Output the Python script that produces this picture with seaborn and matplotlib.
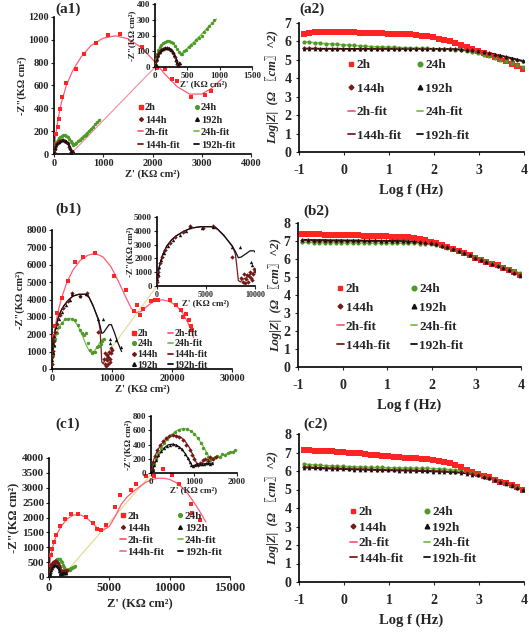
import matplotlib
matplotlib.use('Agg')
import matplotlib.pyplot as plt
import seaborn as sns
from matplotlib.lines import Line2D

sns.set_style('ticks')
plt.rcParams['font.family'] = ['Liberation Serif', 'Noto Sans CJK JP', 'DejaVu Sans']
plt.rcParams['font.weight'] = 'bold'
plt.rcParams['axes.labelweight'] = 'bold'
plt.rcParams['axes.unicode_minus'] = False

# ---------------- data ----------------
series = ['2h', '24h', '144h', '192h']
fit_labels = ['2h-fit', '24h-fit', '144h-fit', '192h-fit']

# Bode: log f (Hz)
logf = [-0.9, -0.775, -0.65, -0.525, -0.4, -0.275, -0.15, -0.025, 0.1, 0.225,
        0.35, 0.475, 0.6, 0.725, 0.85, 0.975, 1.1, 1.225, 1.35, 1.475,
        1.6, 1.725, 1.85, 1.975, 2.1, 2.225, 2.35, 2.475, 2.6, 2.725,
        2.85, 2.975, 3.1, 3.225, 3.35, 3.475, 3.6, 3.725, 3.85, 3.975]

a2_2h = [6.38, 6.48, 6.50, 6.52, 6.52, 6.51, 6.51, 6.50, 6.50, 6.49,
         6.48, 6.47, 6.46, 6.45, 6.44, 6.43, 6.42, 6.41, 6.40, 6.38,
         6.36, 6.32, 6.27, 6.22, 6.15, 6.08, 6.00, 5.92, 5.82, 5.70,
         5.58, 5.46, 5.36, 5.27, 5.16, 5.05, 4.93, 4.80, 4.65, 4.48]
a2_24h = [5.98, 5.96, 5.93, 5.90, 5.88, 5.86, 5.84, 5.82, 5.80, 5.78,
          5.76, 5.74, 5.72, 5.71, 5.70, 5.69, 5.68, 5.67, 5.66, 5.65,
          5.64, 5.63, 5.62, 5.61, 5.60, 5.59, 5.57, 5.55, 5.52, 5.48,
          5.42, 5.35, 5.28, 5.20, 5.10, 5.00, 4.92, 4.82, 4.72, 4.62]
a2_144h = [5.62, 5.62, 5.62, 5.61, 5.61, 5.61, 5.61, 5.60, 5.60, 5.60,
           5.60, 5.60, 5.60, 5.60, 5.60, 5.60, 5.60, 5.60, 5.60, 5.60,
           5.60, 5.60, 5.60, 5.60, 5.59, 5.59, 5.58, 5.57, 5.56, 5.54,
           5.51, 5.47, 5.42, 5.36, 5.29, 5.22, 5.15, 5.07, 4.99, 4.92]
a2_192h = [5.60, 5.60, 5.60, 5.60, 5.60, 5.60, 5.60, 5.60, 5.60, 5.60,
           5.60, 5.60, 5.60, 5.60, 5.60, 5.60, 5.60, 5.60, 5.60, 5.60,
           5.60, 5.60, 5.60, 5.60, 5.60, 5.59, 5.59, 5.58, 5.57, 5.55,
           5.52, 5.48, 5.43, 5.37, 5.31, 5.24, 5.17, 5.10, 5.02, 4.95]

b2_2h = [7.38, 7.38, 7.37, 7.37, 7.36, 7.35, 7.35, 7.34, 7.33, 7.32,
         7.31, 7.30, 7.29, 7.28, 7.27, 7.26, 7.25, 7.24, 7.23, 7.21,
         7.17, 7.11, 7.04, 6.96, 6.87, 6.77, 6.66, 6.55, 6.44, 6.32,
         6.20, 6.08, 5.97, 5.86, 5.75, 5.64, 5.52, 5.40, 5.27, 5.13]
b2_24h = [6.92, 6.92, 6.91, 6.91, 6.90, 6.90, 6.90, 6.89, 6.89, 6.89,
          6.89, 6.88, 6.88, 6.88, 6.88, 6.88, 6.88, 6.88, 6.87, 6.87,
          6.87, 6.86, 6.85, 6.83, 6.79, 6.72, 6.63, 6.53, 6.43, 6.32,
          6.21, 6.10, 5.99, 5.89, 5.79, 5.69, 5.58, 5.47, 5.35, 5.22]
b2_144h = [7.03, 7.03, 7.02, 7.02, 7.02, 7.01, 7.01, 7.01, 7.00, 7.00,
           7.00, 7.00, 6.99, 6.99, 6.99, 6.99, 6.98, 6.98, 6.98, 6.97,
           6.96, 6.94, 6.91, 6.87, 6.82, 6.74, 6.65, 6.55, 6.44, 6.32,
           6.20, 6.08, 5.97, 5.86, 5.75, 5.63, 5.51, 5.38, 5.24, 5.09]
b2_192h = [7.07, 7.07, 7.06, 7.06, 7.06, 7.05, 7.05, 7.05, 7.04, 7.04,
           7.04, 7.03, 7.03, 7.03, 7.02, 7.02, 7.02, 7.01, 7.00, 6.99,
           6.98, 6.96, 6.92, 6.88, 6.82, 6.74, 6.65, 6.55, 6.44, 6.32,
           6.20, 6.08, 5.97, 5.86, 5.75, 5.63, 5.51, 5.38, 5.23, 5.07]

c2_2h = [7.12, 7.11, 7.10, 7.09, 7.08, 7.06, 7.04, 7.02, 7.00, 6.98,
         6.95, 6.92, 6.89, 6.86, 6.83, 6.80, 6.77, 6.74, 6.72, 6.70,
         6.68, 6.66, 6.63, 6.60, 6.56, 6.50, 6.42, 6.32, 6.20, 6.07,
         5.95, 5.85, 5.75, 5.65, 5.54, 5.43, 5.33, 5.22, 5.11, 5.00]
c2_24h = [6.38, 6.35, 6.33, 6.31, 6.29, 6.28, 6.26, 6.25, 6.24, 6.23,
          6.22, 6.21, 6.20, 6.19, 6.19, 6.18, 6.17, 6.17, 6.16, 6.16,
          6.15, 6.15, 6.14, 6.13, 6.12, 6.10, 6.08, 6.05, 6.01, 5.95,
          5.89, 5.82, 5.74, 5.64, 5.54, 5.43, 5.33, 5.22, 5.11, 5.00]
c2_144h = [6.22, 6.21, 6.19, 6.18, 6.17, 6.16, 6.15, 6.14, 6.13, 6.12,
           6.11, 6.10, 6.09, 6.08, 6.08, 6.07, 6.06, 6.06, 6.05, 6.05,
           6.04, 6.03, 6.02, 6.01, 6.00, 5.99, 5.97, 5.95, 5.92, 5.88,
           5.83, 5.77, 5.70, 5.62, 5.53, 5.43, 5.33, 5.22, 5.10, 4.98]
c2_192h = [6.18, 6.17, 6.15, 6.14, 6.13, 6.12, 6.11, 6.10, 6.09, 6.08,
           6.07, 6.06, 6.05, 6.05, 6.04, 6.03, 6.03, 6.02, 6.02, 6.01,
           6.00, 5.99, 5.98, 5.97, 5.96, 5.95, 5.94, 5.92, 5.90, 5.86,
           5.81, 5.76, 5.69, 5.61, 5.52, 5.42, 5.32, 5.21, 5.09, 4.97]

# Nyquist (a1)
a1_2h_x = [15, 35, 49, 75, 102, 130, 171, 252, 441, 609, 847, 1097, 1334, 1781, 2097, 2254, 2390, 2497, 2776, 3066, 3188]
a1_2h_y = [40, 91, 179, 237, 310, 398, 500, 622, 748, 874, 973, 1046, 1052, 938, 754, 748, 661, 637, 500, 521, 550]
a1_2h_fit_x = [0, 30, 80, 150, 250, 380, 550, 750, 1000, 1250, 1500, 1750, 2000, 2250, 2500, 2750, 3000, 3200, 3400]
a1_2h_fit_y = [0, 150, 300, 450, 600, 730, 850, 950, 1015, 1035, 1010, 940, 830, 700, 590, 525, 525, 575, 655]
a1_link_x = [340, 2050]
a1_link_y = [0, 760]
a1_24h_x = [5, 15, 30, 50, 75, 100, 130, 160, 190, 220, 250, 280, 310, 340, 370, 395, 420, 450, 480, 520, 560, 600, 640, 680, 720, 760, 800, 840, 880, 920]
a1_24h_y = [20, 50, 80, 105, 125, 140, 152, 160, 165, 165, 160, 150, 135, 115, 95, 82, 85, 100, 110, 125, 140, 155, 170, 185, 200, 220, 240, 260, 280, 300]
a1_24h_fit_x = [0, 20, 50, 100, 150, 200, 250, 300, 350, 390, 410, 500, 600, 700, 800, 900, 950]
a1_24h_fit_y = [0, 60, 105, 140, 158, 165, 160, 140, 110, 88, 85, 120, 160, 200, 245, 285, 305]
a1_144h_x = [5, 15, 30, 50, 75, 100, 130, 160, 190, 220, 250, 280, 310, 330, 345, 360, 375]
a1_144h_y = [15, 40, 65, 85, 100, 110, 117, 120, 120, 117, 108, 92, 65, 40, 20, 5, 20]
a1_144h_fit_x = [0, 20, 50, 100, 150, 200, 250, 300, 330, 350, 360]
a1_144h_fit_y = [0, 50, 85, 110, 119, 120, 110, 80, 50, 20, 0]
a1_192h_x = [10, 25, 45, 70, 95, 125, 155, 185, 215, 245, 275, 300, 325, 340, 355, 365, 380]
a1_192h_y = [20, 50, 75, 95, 108, 117, 120, 121, 118, 110, 95, 75, 50, 30, 10, 2, 25]
a1_192h_fit_x = [0, 20, 50, 100, 150, 200, 250, 300, 330, 350, 362, 380]
a1_192h_fit_y = [0, 52, 88, 112, 120, 121, 112, 82, 52, 22, 0, 30]

# Nyquist (b1)
b1_2h_x = [100, 200, 450, 900, 1600, 2700, 3800, 5100, 7100, 10300, 12400, 13600, 14100, 14700, 15100, 16500, 17200, 17700, 19600, 20700, 21500, 21900, 22300, 22800, 23100, 23300]
b1_2h_y = [800, 1900, 2450, 3200, 4100, 5050, 6150, 6450, 6650, 5350, 4550, 3350, 3700, 3100, 3450, 3900, 3950, 3950, 3950, 3700, 3400, 3000, 3150, 2800, 2500, 2250]
b1_2h_fit_x = [0, 200, 500, 1000, 1700, 2500, 3500, 4700, 6000, 7200, 8500, 9800, 11000, 12200, 13200, 14000, 14800, 15800, 17000, 18300, 19500, 20700, 21700, 22600, 23300, 23600]
b1_2h_fit_y = [0, 1500, 2400, 3300, 4200, 5000, 5700, 6250, 6550, 6650, 6450, 5900, 5100, 4200, 3500, 3250, 3300, 3600, 3900, 3980, 3900, 3650, 3250, 2700, 2150, 1800]
b1_24h_x = [50, 150, 300, 500, 800, 1200, 1600, 2100, 2700, 3300, 3800, 4300, 4700, 5000, 5300, 5600, 6000, 6300, 6600, 6900, 7200, 7500, 7800, 8100, 8400, 8700]
b1_24h_y = [300, 800, 1300, 1700, 2100, 2400, 2650, 2850, 2900, 2900, 2800, 2550, 2250, 2050, 1950, 2100, 1500, 1100, 900, 950, 1000, 1250, 1350, 1450, 1600, 1700]
b1_24h_fit_x = [0, 200, 500, 1000, 1600, 2300, 3000, 3700, 4300, 5000, 5600, 6200, 6600, 7000, 7500, 8000, 8500]
b1_24h_fit_y = [0, 1100, 1700, 2250, 2650, 2870, 2920, 2780, 2500, 2000, 1450, 1050, 920, 1000, 1250, 1550, 1750]
b1_144h_x = [20, 60, 130, 300, 480, 820, 1330, 1840, 2690, 3370, 4660, 5750, 7620, 8600, 8800, 8900, 9000, 9100, 9200, 9300, 9400, 9500, 9600, 9700, 9800, 9900, 10000]
b1_144h_y = [300, 700, 1040, 1640, 2120, 2610, 3090, 3530, 3940, 4350, 4180, 4350, 2120, 600, 300, 900, 200, 500, 800, 300, 700, 1000, 600, 400, 900, 1200, 1100]
b1_144h_fit_x = [0, 100, 300, 600, 1000, 1500, 2000, 2700, 3500, 4500, 5500, 6200, 7000, 7700, 8000, 8150, 8300, 8500, 8800, 9100, 9400, 9700, 10000]
b1_144h_fit_y = [0, 900, 1600, 2300, 2900, 3350, 3650, 3950, 4200, 4300, 4300, 4100, 3500, 2900, 2300, 1400, 400, 300, 500, 600, 800, 900, 1000]
b1_192h_x = [50, 100, 250, 400, 700, 1100, 1600, 2300, 3000, 3400, 4600, 5700, 7700, 8450, 9600, 9700, 10700, 11500]
b1_192h_y = [500, 900, 1400, 1900, 2400, 2900, 3300, 3700, 4000, 4300, 4200, 4300, 2850, 2850, 1750, 1500, 1650, 1250]
b1_192h_fit_x = [0, 100, 300, 600, 1000, 1500, 2000, 2700, 3500, 4500, 5500, 6000, 6800, 7700, 8000, 8300, 8600, 9000, 9500, 9900, 10400, 11000, 11600]
b1_192h_fit_y = [0, 900, 1600, 2300, 2900, 3350, 3650, 3950, 4200, 4300, 4300, 4250, 3700, 2850, 2500, 2050, 2100, 2300, 2550, 2550, 2100, 1500, 1000]
b1_link_x = [8800, 17500]
b1_link_y = [700, 4780]

# Nyquist (c1)
c1_2h_x = [58, 140, 198, 281, 388, 612, 942, 1298, 1851, 2397, 3090, 3636, 3967, 4331, 4744, 5430, 5843, 6810, 7223, 8050, 8736, 9421, 10198, 10802, 11800, 11850, 12500]
c1_2h_y = [168, 393, 729, 955, 1176, 1402, 1704, 1939, 2131, 2131, 2017, 1815, 1627, 1593, 1738, 2353, 2770, 2914, 3116, 3385, 3385, 3644, 3418, 3139, 2470, 2150, 1900]
c1_2h_fit_x = [0, 100, 300, 600, 1000, 1500, 2000, 2500, 3000, 3500, 4000, 4500, 5000, 5500, 6000, 6500, 7000, 7500, 8000, 8500, 9000, 9500, 10000, 10500, 11000, 11500, 12000, 12500, 13000]
c1_2h_fit_y = [0, 550, 1000, 1400, 1700, 1950, 2080, 2100, 2020, 1850, 1650, 1580, 1700, 2050, 2450, 2700, 2880, 3030, 3180, 3270, 3320, 3320, 3280, 3180, 3020, 2800, 2520, 2200, 1850]
c1_24h_x = [40, 80, 120, 170, 230, 300, 380, 470, 560, 650, 740, 830, 920, 1010, 1090, 1160, 1220, 1270, 1320, 1370, 1420, 1480, 1540, 1600, 1660, 1720, 1780, 1840, 1900, 1960, 2050, 2150]
c1_24h_y = [40, 120, 200, 280, 350, 420, 480, 530, 570, 600, 620, 615, 590, 550, 490, 420, 350, 280, 220, 180, 200, 220, 240, 220, 260, 250, 280, 300, 290, 320, 340, 380]
c1_24h_fit_x = [0, 50, 100, 200, 300, 400, 500, 600, 700, 800, 900, 1000, 1100, 1200, 1300, 1370, 1450, 1550, 1700, 1850, 2000, 2150]
c1_24h_fit_y = [0, 80, 160, 300, 410, 490, 550, 595, 620, 620, 600, 555, 480, 390, 280, 210, 200, 220, 255, 290, 320, 360]
c1_144h_x = [20, 50, 90, 140, 200, 270, 340, 420, 500, 580, 660, 740, 820, 900, 960, 1010, 1060, 1100, 1150, 1200, 1260, 1320, 1380, 1450, 1520]
c1_144h_y = [60, 150, 240, 320, 390, 450, 495, 520, 530, 525, 500, 460, 400, 320, 250, 190, 130, 110, 140, 180, 200, 170, 220, 200, 230]
c1_144h_fit_x = [0, 50, 100, 200, 300, 400, 500, 600, 700, 800, 900, 1000, 1080, 1150, 1250, 1350, 1450, 1550]
c1_144h_fit_y = [0, 160, 250, 370, 450, 505, 530, 525, 500, 440, 350, 220, 110, 130, 175, 195, 210, 225]
c1_192h_x = [50, 80, 120, 170, 230, 300, 370, 440, 510, 580, 650, 720, 790, 850, 900, 940, 980, 1030, 1080, 1130, 1180, 1230, 1280, 1330, 1380, 1420]
c1_192h_y = [40, 110, 180, 250, 310, 355, 385, 400, 405, 395, 370, 330, 270, 210, 150, 110, 95, 110, 120, 125, 130, 120, 135, 140, 130, 145]
c1_192h_fit_x = [30, 60, 100, 200, 300, 400, 500, 600, 700, 800, 900, 960, 1050, 1150, 1250, 1350, 1450]
c1_192h_fit_y = [0, 80, 150, 270, 350, 395, 405, 390, 345, 270, 160, 100, 115, 125, 130, 135, 140]
c1_link_x = [1600, 8400]
c1_link_y = [250, 3420]

# ---------------- styles ----------------
PC = {'2h': '#FF2424', '24h': '#4E9A28', '144h': '#761818', '192h': '#111111'}
FC = {'2h': '#FF5C78', '24h': '#78C046', '144h': '#7A1C1C', '192h': '#111111'}
MK = {'2h': 's', '24h': 'o', '144h': 'D', '192h': '^'}
MSCALE = {'2h': 1.0, '24h': 0.95, '144h': 0.7, '192h': 0.95}

W, H = 529, 632
fig = plt.figure(figsize=(W / 100, H / 100), dpi=100)


def add_ax(x0, y0, x1, y1, inset=False):
    ax = fig.add_axes([x0 / W, 1 - y1 / H, (x1 - x0) / W, (y1 - y0) / H])
    if inset:
        ax.set_facecolor('none')
    for s in ['top', 'right']:
        ax.spines[s].set_visible(False)
    for s in ['left', 'bottom']:
        ax.spines[s].set_linewidth(1.2)
        ax.spines[s].set_color('black')
    return ax


def pts(ax, x, y, key, s):
    sns.scatterplot(x=x, y=y, ax=ax, marker=MK[key], s=s, color=PC[key],
                    linewidth=0, legend=False, zorder=3)


def fitline(ax, x, y, color, lw=1.0, z=2):
    sns.lineplot(x=x, y=y, ax=ax, sort=False, estimator=None, color=color,
                 linewidth=lw, legend=False, zorder=z)


def make_legend(ax, x, y, fs, ls, cs, rowwise=True, msize=3.0, fitcols=None):
    fitcols = fitcols or FC
    ph = [Line2D([], [], marker=MK[k], color=PC[k], linestyle='none',
                 markersize=msize * MSCALE[k]) for k in series]
    fh = [Line2D([], [], color=fitcols[k], lw=1.3) for k in series]
    if rowwise:
        h = [ph[0], ph[2], fh[0], fh[2], ph[1], ph[3], fh[1], fh[3]]
        l = ['2h', '144h', '2h-fit', '144h-fit', '24h', '192h', '24h-fit', '192h-fit']
    else:
        h = ph + fh
        l = series + fit_labels
    leg = ax.legend(h, l, ncol=2, loc='upper left', bbox_to_anchor=(x / W, 1 - y / H),
                    bbox_transform=fig.transFigure, frameon=False, fontsize=fs,
                    handlelength=0.5, handletextpad=0.15, columnspacing=cs,
                    labelspacing=ls, borderpad=0, borderaxespad=0)
    for t in leg.get_texts():
        t.set_fontweight('bold')
    return leg


NYQ_Y = '-Z"(KΩ cm²)'
NYQ_X = "Z' (KΩ cm²)"
BODE_Y = 'Log|Z|  (Ω 〖cm〗^2)'


def nyq_style(ax, xl, yl, xt, yt, fsx, fsy, lfs, xpad=1, ypad=1):
    ax.set_xlim(*xl)
    ax.set_ylim(*yl)
    ax.set_xticks(xt)
    ax.set_yticks(yt)
    ax.tick_params(length=2, width=0.8, pad=1.5)
    ax.tick_params(axis='x', labelsize=fsx)
    ax.tick_params(axis='y', labelsize=fsy)
    ax.set_xlabel(NYQ_X, fontsize=lfs, labelpad=xpad)
    ax.set_ylabel(NYQ_Y, fontsize=lfs, labelpad=ypad)


def bode(ax, data, ymax):
    for k, vals in zip(series, data):
        fitline(ax, logf, vals, FC[k], lw=1.1)
    sizes = {'2h': 16, '24h': 9, '144h': 6, '192h': 7}
    for k, vals in zip(series, data):
        pts(ax, logf, vals, k, sizes[k])
    ax.set_xlim(-1, 4)
    ax.set_ylim(0, ymax)
    ax.set_xticks([-1, 0, 1, 2, 3, 4])
    ax.set_yticks(list(range(0, ymax + 1)))
    ax.tick_params(length=2.5, width=0.8)
    ax.tick_params(axis='x', labelsize=10, pad=6)
    ax.tick_params(axis='y', labelsize=10, pad=3)
    ax.set_xlabel('Log f (Hz)', fontsize=10.5, labelpad=5)
    ax.set_ylabel(BODE_Y, fontsize=9, fontstyle='italic', labelpad=4)


def nyq_series(ax, d, keys=series):
    sizes = {'2h': 9, '24h': 6, '144h': 5, '192h': 6}
    for k in keys:
        fx, fy, px, py = d[k]
        fitline(ax, fx, fy, FC[k], lw=0.9)
    for k in keys:
        fx, fy, px, py = d[k]
        pts(ax, px, py, k, sizes[k])


# ---------------- (a1) ----------------
a1 = {'2h': (a1_2h_fit_x, a1_2h_fit_y, a1_2h_x, a1_2h_y),
      '24h': (a1_24h_fit_x, a1_24h_fit_y, a1_24h_x, a1_24h_y),
      '144h': (a1_144h_fit_x, a1_144h_fit_y, a1_144h_x, a1_144h_y),
      '192h': (a1_192h_fit_x, a1_192h_fit_y, a1_192h_x, a1_192h_y)}
ax = add_ax(54, 17, 251, 154)
fitline(ax, a1_link_x, a1_link_y, '#F58A98', lw=0.8, z=1)
nyq_series(ax, a1)
nyq_style(ax, (0, 4000), (0, 1200), [0, 1000, 2000, 3000, 4000], list(range(0, 1201, 200)), 7.5, 7.5, 7.5)
make_legend(ax, 138, 103, 7.5, 0.3, 1.4, msize=2.8)
axi = add_ax(155, 4, 252, 67, inset=True)
nyq_series(axi, a1, keys=['24h', '144h', '192h'])
nyq_style(axi, (0, 1500), (0, 400), [0, 500, 1000, 1500], [0, 100, 200, 300, 400], 6.5, 6.5, 6.5, 0, 0)

# ---------------- (b1) ----------------
b1 = {'2h': (b1_2h_fit_x, b1_2h_fit_y, b1_2h_x, b1_2h_y),
      '24h': (b1_24h_fit_x, b1_24h_fit_y, b1_24h_x, b1_24h_y),
      '144h': (b1_144h_fit_x, b1_144h_fit_y, b1_144h_x, b1_144h_y),
      '192h': (b1_192h_fit_x, b1_192h_fit_y, b1_192h_x, b1_192h_y)}
ax = add_ax(52, 230, 232, 369)
fitline(ax, b1_link_x, b1_link_y, '#E6DC9A', lw=0.9, z=1)
nyq_series(ax, b1)
nyq_style(ax, (0, 30000), (0, 8000), [0, 10000, 20000, 30000], list(range(0, 8001, 1000)), 7.5, 7.5, 7.5)
make_legend(ax, 131, 329, 7.2, 0.15, 1.0, rowwise=False, msize=2.8)
axi = add_ax(157, 217, 255, 286, inset=True)
nyq_series(axi, b1, keys=['144h', '192h'])
nyq_style(axi, (0, 10000), (0, 5000), [0, 5000, 10000], list(range(0, 5001, 1000)), 5.8, 6.5, 6.5, 0, 0)

# ---------------- (c1) ----------------
c1 = {'2h': (c1_2h_fit_x, c1_2h_fit_y, c1_2h_x, c1_2h_y),
      '24h': (c1_24h_fit_x, c1_24h_fit_y, c1_24h_x, c1_24h_y),
      '144h': (c1_144h_fit_x, c1_144h_fit_y, c1_144h_x, c1_144h_y),
      '192h': (c1_192h_fit_x, c1_192h_fit_y, c1_192h_x, c1_192h_y)}
ax = add_ax(49, 458, 230, 577)
fitline(ax, c1_link_x, c1_link_y, '#E6DC9A', lw=1.0, z=1)
nyq_series(ax, c1)
nyq_style(ax, (0, 15000), (0, 4000), [0, 5000, 10000, 15000], list(range(0, 4001, 500)), 9, 8, 9, xpad=3)
c1_fitcols = dict(FC)
c1_fitcols['144h'] = '#F07585'
make_legend(ax, 120, 511, 8, 0.2, 1.2, fitcols=c1_fitcols, msize=2.8)
axi = add_ax(151, 416, 237, 473, inset=True)
nyq_series(axi, c1, keys=['24h', '144h', '192h'])
nyq_style(axi, (0, 2000), (0, 800), [0, 1000, 2000], [0, 200, 400, 600, 800], 6.5, 6.5, 6.5, 0, 0)

# ---------------- Bode ----------------
ax = add_ax(299, 23, 524, 152)
bode(ax, [a2_2h, a2_24h, a2_144h, a2_192h], 7)
make_legend(ax, 348, 59, 9.5, 0.85, 1.2, msize=3.5)

ax = add_ax(298, 223, 521, 367)
bode(ax, [b2_2h, b2_24h, b2_144h, b2_192h], 8)
ax.yaxis.set_label_coords(-0.072, 0.5)
make_legend(ax, 337, 283, 9.5, 0.5, 1.6, msize=3.5)

ax = add_ax(299, 434, 524, 582)
bode(ax, [c2_2h, c2_24h, c2_144h, c2_192h], 8)
make_legend(ax, 350, 506, 9.5, 0.25, 1.6, msize=3.5)

# ---------------- panel labels ----------------
for lab, x, y in [('(a1)', 55, 3), ('(a2)', 299, 3), ('(b1)', 55, 203),
                  ('(b2)', 303, 205), ('(c1)', 55, 418), ('(c2)', 303, 418)]:
    fig.text(x / W, 1 - y / H, lab, fontsize=11, fontweight='bold', va='top', ha='left')

fig.savefig('out.png', dpi=100)
